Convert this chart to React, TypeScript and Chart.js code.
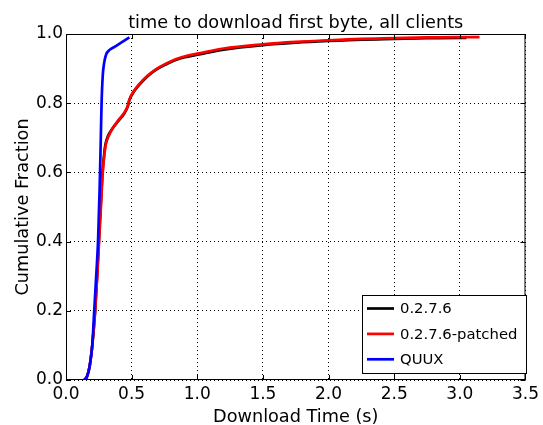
import React, { useEffect, useRef } from "react";
import { Chart, registerables } from "chart.js";

Chart.register(...registerables);

const titleText = "time to download first byte, all clients";
const xLabel = "Download Time (s)";
const yLabel = "Cumulative Fraction";
const seriesNames = ["0.2.7.6", "0.2.7.6-patched", "QUUX"];
const seriesColors = ["#000000", "#ff0000", "#0000ff"];
const xTicks = [0, 0.5, 1.0, 1.5, 2.0, 2.5, 3.0, 3.5];
const yTicks = [0, 0.2, 0.4, 0.6, 0.8, 1.0];

const baseX = [0.14, 0.16, 0.18, 0.2, 0.222, 0.237, 0.25, 0.264, 0.278, 0.29, 0.30, 0.32, 0.35, 0.395, 0.445, 0.47, 0.483, 0.52, 0.558, 0.62, 0.684, 0.76, 0.835, 0.92, 1.011, 1.2, 1.5, 1.75, 2.0, 2.25, 2.5, 2.75, 3.0, 3.05];
const baseY = [0, 0.01, 0.04, 0.1, 0.2, 0.3, 0.4, 0.5, 0.6, 0.65, 0.68, 0.705, 0.725, 0.747, 0.771, 0.79, 0.809, 0.835, 0.853, 0.877, 0.896, 0.912, 0.925, 0.934, 0.941, 0.955, 0.968, 0.975, 0.98, 0.984, 0.986, 0.988, 0.989, 0.989];

const patchedX = [0.14, 0.16, 0.18, 0.2, 0.222, 0.238, 0.252, 0.266, 0.28, 0.292, 0.303, 0.325, 0.355, 0.395, 0.445, 0.47, 0.483, 0.52, 0.558, 0.62, 0.684, 0.76, 0.835, 0.92, 1.011, 1.2, 1.5, 1.75, 2.0, 2.25, 2.5, 2.75, 3.0, 3.15];
const patchedY = [0, 0.01, 0.04, 0.1, 0.2, 0.3, 0.4, 0.5, 0.6, 0.65, 0.68, 0.705, 0.727, 0.749, 0.773, 0.792, 0.811, 0.837, 0.855, 0.879, 0.898, 0.914, 0.927, 0.937, 0.944, 0.958, 0.970, 0.977, 0.982, 0.986, 0.988, 0.990, 0.991, 0.991];

const quuxX = [0.14, 0.16, 0.18, 0.2, 0.215, 0.23, 0.244, 0.256, 0.264, 0.271, 0.28, 0.29, 0.305, 0.332, 0.37, 0.42, 0.483];
const quuxY = [0, 0.01, 0.04, 0.1, 0.2, 0.3, 0.4, 0.55, 0.68, 0.8, 0.88, 0.915, 0.94, 0.954, 0.963, 0.975, 0.99];

const FONT = "'DejaVu Sans', sans-serif";

const toPts = (xs: number[], ys: number[]) => xs.map((x, i) => ({ x, y: ys[i] }));

const decorPlugin = {
  id: "decor",
  afterDraw(chart: any) {
    const { ctx, chartArea } = chart;
    const { left, right, top, bottom } = chartArea;
    const xs = chart.scales.x;
    const ys = chart.scales.y;
    ctx.save();
    ctx.strokeStyle = "#000";
    ctx.lineWidth = 1;
    ctx.setLineDash([]);
    ctx.strokeRect(left + 0.5, top + 0.5, right - left - 1, bottom - top - 1);
    // inward ticks
    ctx.beginPath();
    xTicks.forEach((t) => {
      const px = Math.round(xs.getPixelForValue(t)) + 0.5;
      ctx.moveTo(px, bottom);
      ctx.lineTo(px, bottom - 5);
      ctx.moveTo(px, top);
      ctx.lineTo(px, top + 5);
    });
    yTicks.forEach((t) => {
      const py = Math.round(ys.getPixelForValue(t)) + 0.5;
      ctx.moveTo(left, py);
      ctx.lineTo(left + 5, py);
      ctx.moveTo(right, py);
      ctx.lineTo(right - 5, py);
    });
    ctx.stroke();

    // texts
    ctx.fillStyle = "#000";
    ctx.font = `17.7px ${FONT}`;
    ctx.textAlign = "center";
    ctx.textBaseline = "alphabetic";
    ctx.fillText(titleText, (left + right) / 2, 28);
    ctx.fillText(xLabel, (left + right) / 2, 421.5);
    ctx.save();
    ctx.translate(28, (top + bottom) / 2);
    ctx.rotate(-Math.PI / 2);
    ctx.fillText(yLabel, 0, 0);
    ctx.restore();

    // legend
    const lx = 362, ly = 295, lw = 164, lh = 78;
    ctx.fillStyle = "#fff";
    ctx.fillRect(lx, ly, lw, lh);
    ctx.strokeStyle = "#000";
    ctx.lineWidth = 1;
    ctx.strokeRect(lx + 0.5, ly + 0.5, lw, lh);
    ctx.font = `14.8px ${FONT}`;
    ctx.textAlign = "left";
    ctx.textBaseline = "middle";
    seriesNames.forEach((name, i) => {
      const cy = ly + 13.5 + i * 25.4;
      ctx.strokeStyle = seriesColors[i];
      ctx.lineWidth = 2.7;
      ctx.beginPath();
      ctx.moveTo(lx + 5, cy);
      ctx.lineTo(lx + 32, cy);
      ctx.stroke();
      ctx.fillStyle = "#000";
      ctx.fillText(name, lx + 38, cy + 1);
    });
    ctx.restore();
  },
};

export default function App() {
  const ref = useRef<HTMLCanvasElement>(null);
  useEffect(() => {
    document.body.style.margin = "0";
    const canvas = ref.current!;
    const chart = new Chart(canvas, {
      type: "scatter",
      data: {
        datasets: [
          { label: seriesNames[0], data: toPts(baseX, baseY), borderColor: seriesColors[0], order: 3 },
          { label: seriesNames[1], data: toPts(patchedX, patchedY), borderColor: seriesColors[1], order: 2 },
          { label: seriesNames[2], data: toPts(quuxX, quuxY), borderColor: seriesColors[2], order: 1 },
        ].map((d) => ({
          ...d,
          showLine: true,
          pointRadius: 0,
          borderWidth: 2.7,
          cubicInterpolationMode: "monotone" as const,
          fill: false,
        })),
      },
      options: {
        animation: false,
        responsive: false,
        maintainAspectRatio: false,
        events: [],
        layout: { padding: { top: 34, right: 16, left: 0, bottom: 0 } },
        plugins: { legend: { display: false }, title: { display: false }, tooltip: { enabled: false } },
        scales: {
          x: {
            type: "linear",
            min: 0,
            max: 3.5,
            afterFit: (s: any) => { s.height = 45; },
            afterBuildTicks: (s: any) => { s.ticks = xTicks.map((v) => ({ value: v })); },
            ticks: {
              color: "#000",
              font: { family: FONT, size: 17 },
              padding: 4,
              maxRotation: 0,
              callback: (v: any) => Number(v).toFixed(1),
            },
            grid: { color: "#000", drawTicks: false, lineWidth: 1 },
            border: { display: false, dash: [1, 3] },
          },
          y: {
            type: "linear",
            min: 0,
            max: 1,
            afterFit: (s: any) => { s.width = 66; },
            afterBuildTicks: (s: any) => { s.ticks = yTicks.map((v) => ({ value: v })); },
            ticks: {
              color: "#000",
              font: { family: FONT, size: 17 },
              padding: 3,
              callback: (v: any) => Number(v).toFixed(1),
            },
            grid: { color: "#000", drawTicks: false, lineWidth: 1 },
            border: { display: false, dash: [1, 3] },
          },
        },
      },
      plugins: [decorPlugin],
    });
    return () => chart.destroy();
  }, []);
  return (
    <div style={{ position: "relative", width: 543, height: 425, background: "#fff" }}>
      <canvas ref={ref} width={543} height={425} style={{ display: "block" }} />
    </div>
  );
}
